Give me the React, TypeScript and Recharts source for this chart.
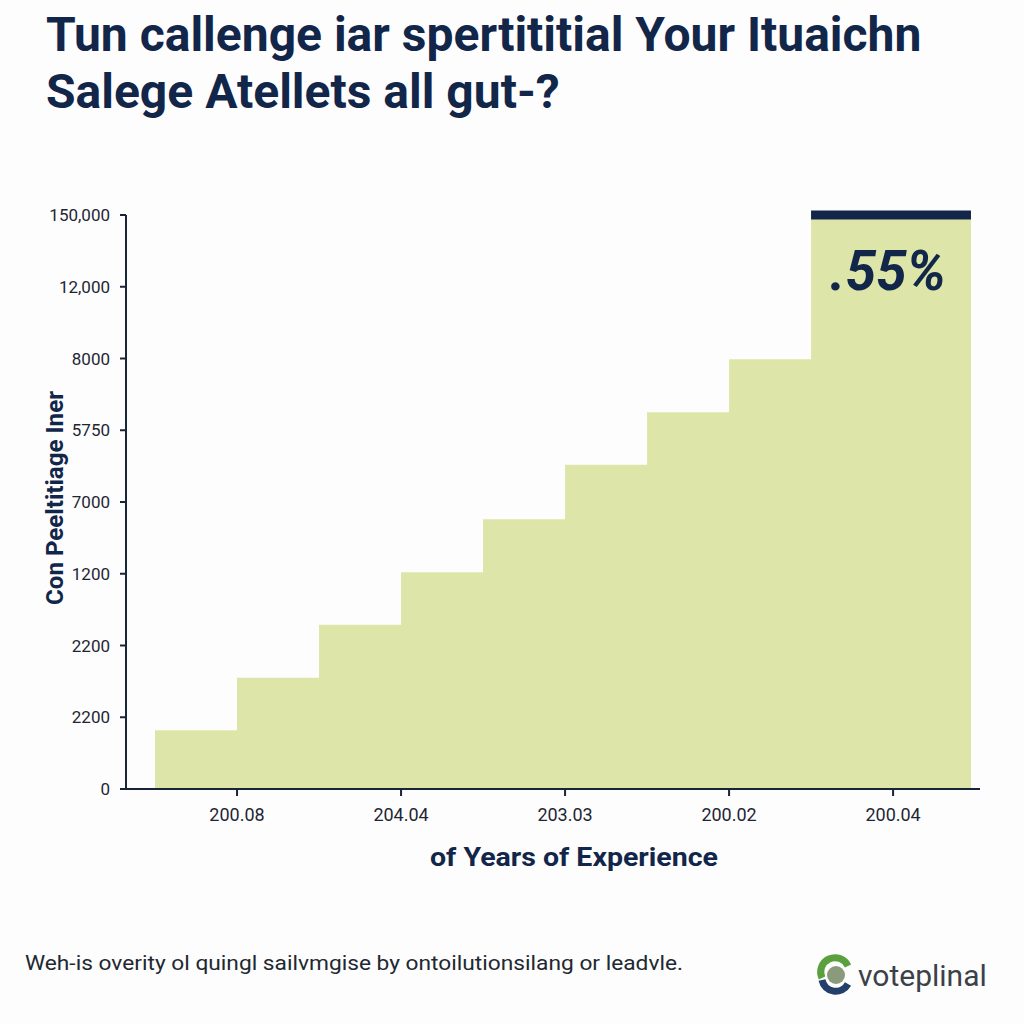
import React from "react";
import {
  AreaChart,
  Area,
  XAxis,
  YAxis,
  ReferenceLine,
} from "recharts";

// step positions along the experience axis
const stepPositions = [0, 1, 2, 3, 4, 5, 6, 7, 8, 9.95];
// step heights, in tick slots (each y tick is one slot)
const stepHeights = [0.82, 1.55, 2.29, 3.02, 3.76, 4.52, 5.25, 5.99, 8, 8];

const yTickLabels = ["0", "2200", "2200", "1200", "7000", "5750", "8000", "12,000", "150,000"];
const xTickPositions = [1, 3, 5, 7, 9];
const xTickLabels = ["200.08", "204.04", "203.03", "200.02", "200.04"];

const NAVY = "#12264a";
const GREEN = "#dde6a8";
const FONT = "Roboto, 'Liberation Sans', sans-serif";

const data = stepPositions.map((x, i) => ({ x, v: stepHeights[i] }));

const App: React.FC = () => {
  return (
    <div
      style={{
        position: "absolute",
        left: 0,
        top: 0,
        width: 1024,
        height: 1024,
        background: "#fdfdfd",
        fontFamily: FONT,
      }}
    >
      <AreaChart
        width={1024}
        height={1024}
        data={data}
        margin={{ top: 215, right: 44, left: 0, bottom: 205 }}
        style={{ position: "absolute", left: 0, top: 0 }}
      >
        <XAxis
          dataKey="x"
          type="number"
          domain={[-0.354, 10.06]}
          allowDataOverflow
          ticks={xTickPositions}
          tickFormatter={(v: number) => xTickLabels[xTickPositions.indexOf(v)] ?? ""}
          height={30}
          tickSize={7}
          tickMargin={12}
          axisLine={{ stroke: "#1a2438", strokeWidth: 2 }}
          tickLine={{ stroke: "#1a2438", strokeWidth: 2 }}
          tick={{ fill: "#1f2633", fontSize: 18, fontFamily: FONT }}
        />
        <YAxis
          type="number"
          domain={[0, 8]}
          ticks={[0, 1, 2, 3, 4, 5, 6, 7, 8]}
          tickFormatter={(v: number) => yTickLabels[v] ?? ""}
          width={126}
          tickSize={6}
          tickMargin={10}
          axisLine={{ stroke: "#1a2438", strokeWidth: 2 }}
          tickLine={{ stroke: "#1a2438", strokeWidth: 2 }}
          tick={{ fill: "#1f2633", fontSize: 17, fontFamily: FONT }}
        />
        <Area
          type="stepAfter"
          dataKey="v"
          fill={GREEN}
          fillOpacity={1}
          stroke="none"
          isAnimationActive={false}
        />
        <ReferenceLine
          segment={[
            { x: 8, y: 8 },
            { x: 9.95, y: 8 },
          ]}
          stroke={NAVY}
          strokeWidth={9}
        />
      </AreaChart>

      <svg
        width={1024}
        height={1024}
        style={{ position: "absolute", left: 0, top: 0, pointerEvents: "none" }}
      >
        {/* title */}
        <text x={46} y={51} fontSize={48} fontWeight={700} fill={NAVY} fontFamily={FONT}>
          Tun callenge iar spertititial Your Ituaichn
        </text>
        <text x={46} y={108} fontSize={48} fontWeight={700} fill={NAVY} fontFamily={FONT}>
          Salege Atellets all gut-?
        </text>

        {/* value callout */}
        <text
          x={888}
          y={290}
          textAnchor="middle"
          fontSize={55}
          fontWeight={700}
          fontStyle="italic"
          fill={NAVY}
          fontFamily={FONT}
        >
          .55%
        </text>

        {/* axis titles */}
        <text
          transform="translate(63,498) rotate(-90)"
          textAnchor="middle"
          fontSize={23}
          fontWeight={700}
          fill={NAVY}
          fontFamily={FONT}
          textLength={214}
          lengthAdjust="spacingAndGlyphs"
        >
          Con Peeltitiage Iner
        </text>
        <text
          x={574}
          y={866}
          textAnchor="middle"
          fontSize={26}
          fontWeight={700}
          fill={NAVY}
          fontFamily={FONT}
          textLength={288}
          lengthAdjust="spacingAndGlyphs"
        >
          of Years of Experience
        </text>

        {/* footnote */}
        <text
          x={25}
          y={970}
          fontSize={21}
          fill="#222831"
          fontFamily={FONT}
          textLength={658}
          lengthAdjust="spacingAndGlyphs"
        >
          Weh-is overity ol quingl sailvmgise by ontoilutionsilang or leadvle.
        </text>

        {/* logo */}
        <circle cx={836} cy={975} r={9} fill="#8a9a7a" />
        <path d="M 822 978 A 14 14 0 0 1 848 966" stroke="#5aa03c" strokeWidth={7} fill="none" />
        <path d="M 822 980 A 14 14 0 0 0 848 984" stroke="#24406a" strokeWidth={7} fill="none" />
        <text x={858} y={986} fontSize={30} fill="#3c4148" fontFamily={FONT}>
          voteplinal
        </text>
      </svg>
    </div>
  );
};

export default App;
